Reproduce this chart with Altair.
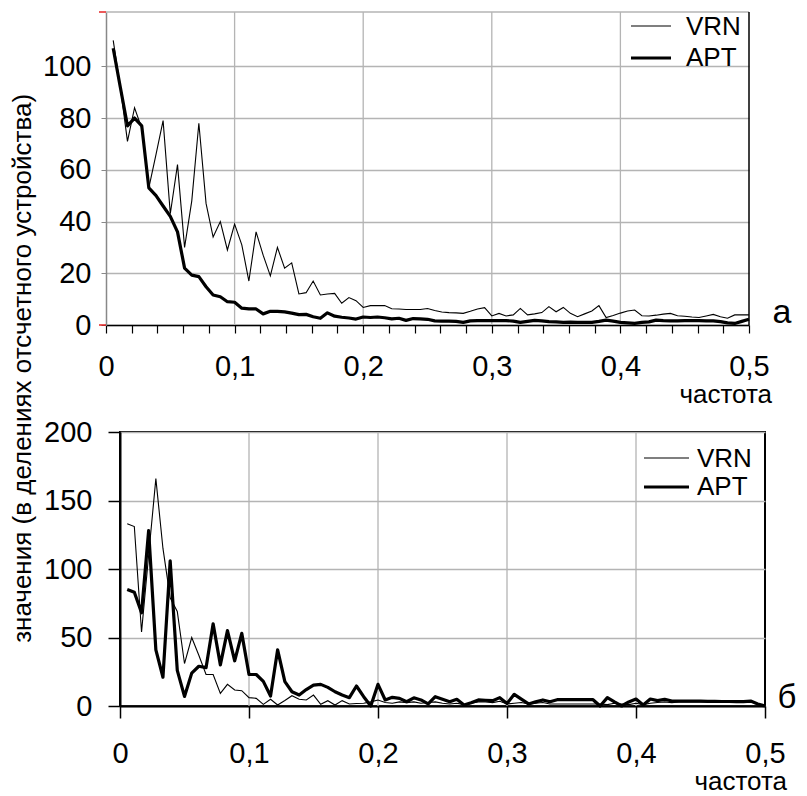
import altair as alt
import pandas as pd

# ---------------- data ----------------
freq = [0.0056, 0.0111, 0.0167, 0.0222, 0.0278, 0.0333, 0.0389, 0.0444, 0.05, 0.0556,
        0.0611, 0.0667, 0.0722, 0.0778, 0.0833, 0.0889, 0.0944, 0.1, 0.1056, 0.1111,
        0.1167, 0.1222, 0.1278, 0.1333, 0.1389, 0.1444, 0.15, 0.1556, 0.1611, 0.1667,
        0.1722, 0.1778, 0.1833, 0.1889, 0.1944, 0.2, 0.2056, 0.2111, 0.2167, 0.2222,
        0.2278, 0.2333, 0.2389, 0.2444, 0.25, 0.2556, 0.2611, 0.2667, 0.2722, 0.2778,
        0.2833, 0.2889, 0.2944, 0.3, 0.3056, 0.3111, 0.3167, 0.3222, 0.3278, 0.3333,
        0.3389, 0.3444, 0.35, 0.3556, 0.3611, 0.3667, 0.3722, 0.3778, 0.3833, 0.3889,
        0.3944, 0.4, 0.4056, 0.4111, 0.4167, 0.4222, 0.4278, 0.4333, 0.4389, 0.4444,
        0.45, 0.4556, 0.4611, 0.4667, 0.4722, 0.4778, 0.4833, 0.4889, 0.4944, 0.5]

top_vrn = [110, 92, 71, 84, 76, 53, 66, 79, 43, 62,
           30, 48, 78, 47, 34, 40, 29, 39, 31, 17,
           36, 27, 19, 30, 22, 24, 12, 12.5, 17, 11.6,
           12, 12.2, 8.4, 10.6, 9.4, 6.8, 7.5, 7.5, 7.5, 6.3,
           6.2, 6.0, 6.0, 6.0, 6.4, 5.6, 5.0, 4.8, 4.7, 4.5,
           5.3, 6.2, 6.7, 3.5, 4.5, 3.5, 3.9, 6.4, 3.9, 4.3,
           4.8, 7.1, 5.1, 6.8, 4.5, 3.2, 4.3, 5.4, 7.5, 2.9,
           3.7, 4.6, 5.4, 5.8, 3.6, 3.5, 3.8, 4.2, 4.5, 3.6,
           3.4, 3.1, 2.9, 3.5, 4.1, 3.2, 2.6, 3.9, 3.9, 3.9]

top_apt = [107, 92, 77, 80, 77, 53, 50, 46, 42, 36,
           22, 19.3, 18.7, 14.8, 11.6, 10.9, 9.0, 8.8, 6.5, 6.2,
           6.2, 4.3, 5.3, 5.3, 5.1, 4.6, 4.0, 4.1, 3.2, 2.6,
           4.7, 3.4, 3.0, 2.7, 2.3, 3.1, 2.9, 3.1, 2.8, 2.4,
           2.6, 1.8, 2.5, 2.4, 2.2, 1.6, 1.5, 1.5, 1.4, 1.0,
           1.6, 1.7, 1.7, 1.7, 1.7, 1.7, 1.5, 1.0, 1.4, 1.8,
           1.6, 1.3, 1.2, 1.0, 1.1, 1.0, 1.0, 1.0, 1.4, 1.9,
           1.5, 1.0, 0.8, 0.6, 1.0, 1.2, 1.9, 1.7, 1.6, 1.6,
           1.7, 1.7, 1.7, 1.6, 1.6, 1.3, 0.8, 0.6, 1.4, 2.2]

bot_vrn = [133, 131, 54, 110, 166, 115, 79, 69, 31, 50,
           37, 23, 23, 9.2, 15.8, 11.7, 11.2, 6.1, 5.6, 1.2,
           4.9, 0.7, 4, 7.5, 4.9, 4.4, 8, 1.2, 3.9, 0.7,
           3.9, 1.5, 1.8, 2, 3, 4.4, 2.5, 2, 3, 2.5,
           3, 2, 2.5, 3, 2, 1.5, 2, 1, 2, 3,
           3, 2.5, 3.5, 1.5, 2, 2.5, 1.5, 2, 2.5, 1.5,
           1.5, 1.5, 1.5, 1.5, 1.5, 1.5, 1.5, 1, 2, 1.5,
           1, 2, 1, 2, 2.5, 3, 2.5, 3, 3, 3,
           3, 3, 3, 3, 3, 3, 3, 3.5, 1.5, 0.5]

bot_apt = [85, 83, 68, 128, 41, 21, 106, 26, 7, 24,
           29, 28, 60, 30, 55, 33, 53, 23, 23, 18,
           7.3, 41, 17.8, 10.4, 8, 12, 15.3, 15.8, 13.6, 10.4,
           8, 6.1, 14.6, 6.8, 0, 15.8, 4.4, 6.3, 5.6, 3.1,
           6, 4.4, 1.5, 6.8, 4.9, 3.1, 4.9, 0.7, 2.4, 4.4,
           4.2, 3.9, 6.1, 1.8, 8.5, 5, 1.5, 3, 4.4, 3.1,
           4.6, 4.6, 4.6, 4.6, 4.6, 4.6, 0, 6.1, 3, 0,
           3, 5.1, 0.7, 5.1, 3.9, 4.9, 3.6, 3.6, 3.5, 3.5,
           3.5, 3.4, 3.4, 3.3, 3.3, 3.2, 3.2, 3.6, 1.5, 0]

series_names = ["VRN", "APT"]
x_ticks_top = [0, 0.02, 0.04, 0.06, 0.08, 0.1, 0.12, 0.14, 0.16, 0.18, 0.2, 0.22, 0.24,
               0.26, 0.28, 0.3, 0.32, 0.34, 0.36, 0.38, 0.4, 0.42, 0.44, 0.46, 0.48, 0.5]
x_ticks_bot = [0, 0.1, 0.2, 0.3, 0.4, 0.5]
x_grid = [0.1, 0.2, 0.3, 0.4]
x_end = [0.5]
y_ticks_top = [0, 20, 40, 60, 80, 100]
y_ticks_bot = [0, 50, 100, 150, 200]
y_title = "значения (в делениях отсчетного устройства)"
x_title = "частота"
panel_tags = ["а", "б"]

for s in (top_vrn, top_apt, bot_vrn, bot_apt):
    assert len(s) == len(freq), len(s)

FONT = "Liberation Sans"
GRID = "#b4b4b4"
label_expr = ("abs(datum.value*10 - round(datum.value*10)) < 0.001 ? "
              "replace(format(datum.value, '.1~f'), '.', ',') : ''")

SHIFT = 14               # top panel's plot starts this far left of the bottom one
W_TOP, H_TOP = 643, 313
W_BOT, H_BOT = 645, 274
TICK_FS, XLAB_FS = 29, 29


def txt(s, x, y, size, align="left", baseline="middle"):
    return alt.Chart(pd.DataFrame({"t": [s]})).mark_text(
        align=align, baseline=baseline, fontSize=size, color="black", font=FONT
    ).encode(x=alt.value(x), y=alt.value(y), text="t:N")


def seg(x1, x2, y, width, color="black"):
    return alt.Chart(pd.DataFrame({"t": [0]})).mark_rule(
        color=color, strokeWidth=width
    ).encode(x=alt.value(x1), x2=alt.value(x2), y=alt.value(y))


# ---------------- top panel ----------------
# group origin sits at the bottom panel's left edge; the top scale starts SHIFT px earlier
xs_t = alt.Scale(domain=[0, 0.5], nice=False, zero=False, range=[-SHIFT, W_TOP - SHIFT])
ys_t = alt.Scale(domain=[0, 121], nice=False)
ax_xt = alt.Axis(values=x_ticks_top, labelExpr=label_expr, grid=False, title=None,
                 domainColor="black", domainWidth=1.5, tickColor="black", tickWidth=1.2,
                 tickSize=8, labelFontSize=XLAB_FS, labelPadding=19, labelColor="black",
                 labelFlush=False, labelOverlap=False)
ax_yt = alt.Axis(values=y_ticks_top, grid=True, gridColor=GRID, gridWidth=1.3, title=None,
                 domainColor="#888888", domainWidth=1.5, tickColor="#888888", tickSize=5,
                 labelFontSize=TICK_FS, labelPadding=10, labelColor="black", offset=SHIFT)

df_top = pd.DataFrame({"f": freq, "VRN": top_vrn, "APT": top_apt})
base_t = alt.Chart(df_top)
grid_t = alt.Chart(pd.DataFrame({"g": x_grid})).mark_rule(color=GRID, strokeWidth=1.3).encode(
    x=alt.X("g:Q", scale=xs_t, axis=ax_xt))
end_t = alt.Chart(pd.DataFrame({"g": x_end})).mark_rule(color="black", strokeWidth=1.5).encode(
    x=alt.X("g:Q", scale=xs_t, axis=ax_xt))
vrn_t = base_t.mark_line(color="black", strokeWidth=1.1).encode(
    x=alt.X("f:Q", scale=xs_t, axis=ax_xt), y=alt.Y("VRN:Q", scale=ys_t, axis=ax_yt))
apt_t = base_t.mark_line(color="black", strokeWidth=3.2, strokeJoin="round").encode(
    x=alt.X("f:Q", scale=xs_t, axis=ax_xt), y=alt.Y("APT:Q", scale=ys_t, axis=ax_yt))

o = -SHIFT  # pixel offset of the top plot's left edge within its group
top = alt.layer(
    grid_t, seg(o, o + W_TOP, 0, 1.3, GRID), end_t, vrn_t, apt_t,
    seg(o - 7, o, 0, 1.3, "#e00000"), seg(o - 7, o, H_TOP, 1.3, "#e00000"),
    seg(o + 525, o + 565, 14, 1.1), txt(series_names[0], o + 580, 15, 26),
    seg(o + 525, o + 565, 46, 3.2), txt(series_names[1], o + 580, 46, 26),
    txt(panel_tags[0], o + 676, 311, 34, align="center", baseline="alphabetic"),
    txt(x_title, o + 666, 391, 26, align="right", baseline="alphabetic"),
).properties(width=W_TOP - SHIFT, height=H_TOP,
             view=alt.ViewBackground(stroke="transparent"))

# ---------------- bottom panel ----------------
xs_b = alt.Scale(domain=[0, 0.5], nice=False, zero=False)
ys_b = alt.Scale(domain=[0, 200], nice=False)
ax_xb = alt.Axis(values=x_ticks_bot, labelExpr=label_expr, grid=False, title=None,
                 domainColor="black", domainWidth=2, tickColor="black", tickWidth=1.5,
                 tickSize=12, labelFontSize=XLAB_FS, labelPadding=21, labelColor="black",
                 labelFlush=False, labelOverlap=False)
ax_yb = alt.Axis(values=y_ticks_bot, grid=True, gridColor=GRID, gridWidth=1.3, title=None,
                 domainColor="black", domainWidth=2, tickColor="black", tickWidth=1.5,
                 tickSize=12, labelFontSize=TICK_FS, labelPadding=16, labelColor="black")

df_bot = pd.DataFrame({"f": freq, "VRN": bot_vrn, "APT": bot_apt})
base_b = alt.Chart(df_bot)
grid_b = alt.Chart(pd.DataFrame({"g": x_grid})).mark_rule(color=GRID, strokeWidth=1.3).encode(
    x=alt.X("g:Q", scale=xs_b, axis=ax_xb))
vrn_b = base_b.mark_line(color="black", strokeWidth=1.1).encode(
    x=alt.X("f:Q", scale=xs_b, axis=ax_xb), y=alt.Y("VRN:Q", scale=ys_b, axis=ax_yb))
apt_b = base_b.mark_line(color="black", strokeWidth=3.2, strokeJoin="round").encode(
    x=alt.X("f:Q", scale=xs_b, axis=ax_xb), y=alt.Y("APT:Q", scale=ys_b, axis=ax_yb))

bottom = alt.layer(
    grid_b, vrn_b, apt_b,
    seg(524, 569, 26, 1.1), txt(series_names[0], 577, 27, 26),
    seg(524, 569, 55, 3.2), txt(series_names[1], 577, 55, 26),
    txt(panel_tags[1], 667, 276, 33, align="center", baseline="alphabetic"),
    txt(x_title, 667, 358, 26, align="right", baseline="alphabetic"),
).properties(width=W_BOT, height=H_BOT,
             view=alt.ViewBackground(stroke="black", strokeWidth=2))

chart = alt.vconcat(top, bottom, spacing=8).properties(
    title=alt.TitleParams(y_title, orient="left", anchor="middle", fontSize=26,
                          fontWeight="normal", color="black", font=FONT, offset=6, dx=35),
    padding={"left": 2, "top": 2, "right": 0, "bottom": 0},
).configure(font=FONT)

chart.save("out.html", embed_options={"renderer": "svg", "actions": False})
